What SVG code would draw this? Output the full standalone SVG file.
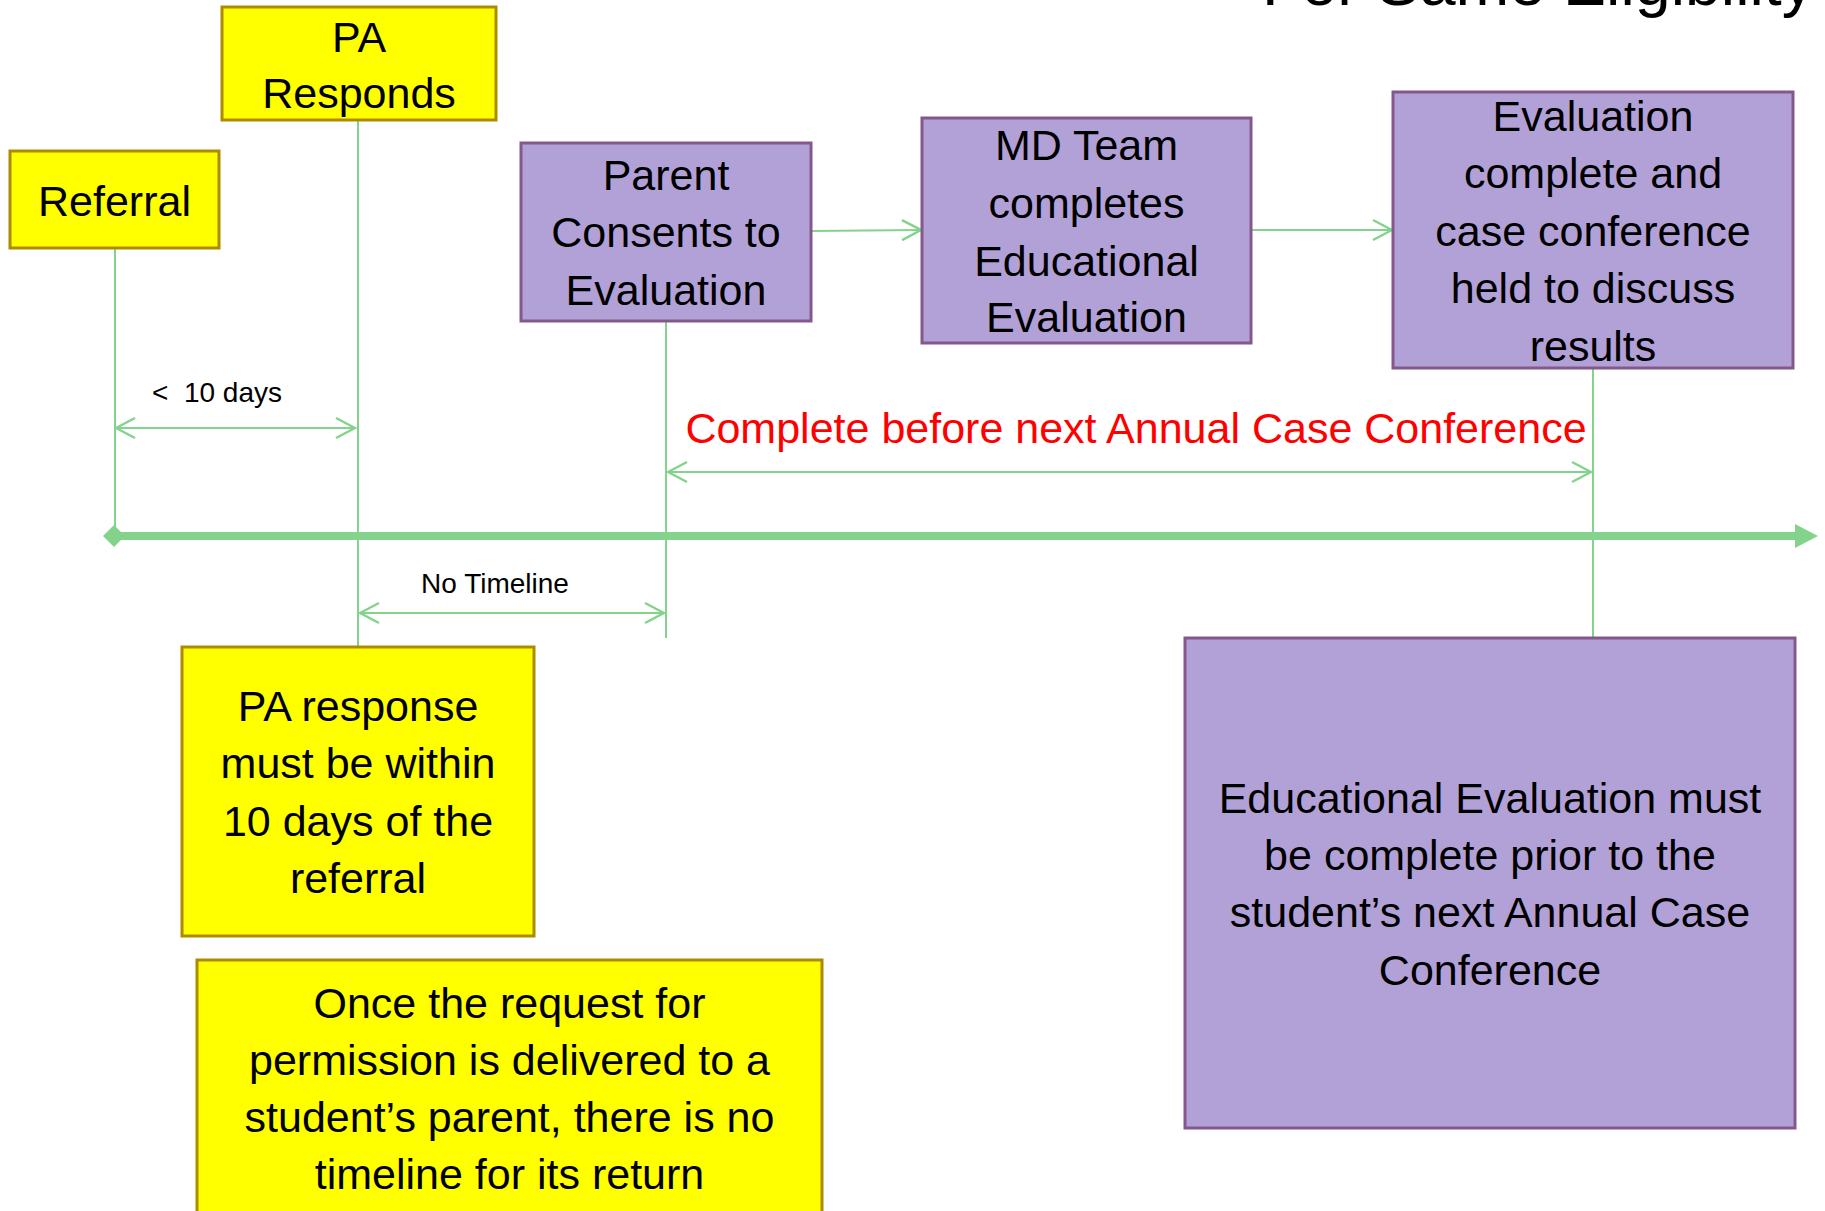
<svg xmlns="http://www.w3.org/2000/svg" width="1825" height="1211" viewBox="0 0 1825 1211">
<style>
.y{fill:#FFFF00;stroke:#AD8A00;stroke-width:3}
.p{fill:#B2A1D7;stroke:#84588A;stroke-width:3}
.t{font-family:"Liberation Sans",Arial,sans-serif;font-size:43px;fill:#000;text-anchor:middle}
.s{font-family:"Liberation Sans",Arial,sans-serif;font-size:28px;fill:#000;text-anchor:middle;white-space:pre}
.r{font-family:"Liberation Sans",Arial,sans-serif;font-size:43px;fill:#FF0000;text-anchor:middle}
.g{stroke:#84D38C;stroke-width:2;fill:none}
.a{stroke:#84D38C;stroke-width:2;fill:none;marker-end:url(#oa)}
.d{stroke:#84D38C;stroke-width:2;fill:none;marker-end:url(#oa);marker-start:url(#oa)}
</style>
<defs>
<marker id="oa" markerUnits="userSpaceOnUse" markerWidth="24" markerHeight="24" viewBox="-22 -12 24 24" refX="0" refY="0" orient="auto-start-reverse">
<path d="M-19,-10 L0,0 L-19,10" fill="none" stroke="#84D38C" stroke-width="2.5"/>
</marker>
</defs>
<rect width="1825" height="1211" fill="#FFFFFF"/>
<text x="1262" y="5" font-family="'Liberation Sans',Arial,sans-serif" font-size="64" fill="#000" textLength="552" lengthAdjust="spacingAndGlyphs">For Same Eligibility</text>

<g id="connectors">
<line class="g" x1="115" y1="248" x2="115" y2="535"/>
<line class="g" x1="358" y1="120" x2="358" y2="647"/>
<line class="g" x1="666" y1="321" x2="666" y2="638"/>
<line class="g" x1="1593" y1="368" x2="1593" y2="638"/>
<line class="a" x1="811" y1="231" x2="921" y2="230"/>
<line class="a" x1="1251" y1="230" x2="1392" y2="230"/>
<line class="d" x1="116" y1="428" x2="355" y2="428"/>
<line class="d" x1="668" y1="472" x2="1591" y2="472"/>
<line class="d" x1="360" y1="613" x2="664" y2="613"/>
<line x1="114" y1="536" x2="1798" y2="536" stroke="#84D38C" stroke-width="8"/>
<path d="M114,525 L125,536 L114,547 L103,536 Z" fill="#84D38C"/>
<path d="M1795,524 L1818,536 L1795,548 Z" fill="#84D38C"/>
<text class="s" x="217" y="402">&lt;  10 days</text>
<text class="s" x="495" y="593">No Timeline</text>
<text class="r" x="1136" y="443">Complete before next Annual Case Conference</text>
</g>

<g id="referral">
<rect class="y" x="10" y="151" width="209" height="97"/>
<text class="t" x="114.5" y="216">Referral</text>
</g>
<g id="pa-responds">
<rect class="y" x="222" y="7" width="274" height="113"/>
<text class="t" x="359" y="52">PA</text>
<text class="t" x="359" y="108">Responds</text>
</g>
<g id="parent-consents">
<rect class="p" x="521" y="143" width="290" height="178"/>
<text class="t" x="666" y="190">Parent</text>
<text class="t" x="666" y="247">Consents to</text>
<text class="t" x="666" y="305">Evaluation</text>
</g>
<g id="md-team">
<rect class="p" x="922" y="118" width="329" height="225"/>
<text class="t" x="1086.5" y="160">MD Team</text>
<text class="t" x="1086.5" y="218">completes</text>
<text class="t" x="1086.5" y="276">Educational</text>
<text class="t" x="1086.5" y="332">Evaluation</text>
</g>
<g id="evaluation-complete">
<rect class="p" x="1393" y="92" width="400" height="276"/>
<text class="t" x="1593" y="131">Evaluation</text>
<text class="t" x="1593" y="188">complete and</text>
<text class="t" x="1593" y="246">case conference</text>
<text class="t" x="1593" y="303">held to discuss</text>
<text class="t" x="1593" y="361">results</text>
</g>
<g id="pa-response-note">
<rect class="y" x="182" y="647" width="352" height="289"/>
<text class="t" x="358" y="721">PA response</text>
<text class="t" x="358" y="778">must be within</text>
<text class="t" x="358" y="836">10 days of the</text>
<text class="t" x="358" y="893">referral</text>
</g>
<g id="once-note">
<rect class="y" x="197" y="960" width="625" height="270"/>
<text class="t" x="509.5" y="1018">Once the request for</text>
<text class="t" x="509.5" y="1075">permission is delivered to a</text>
<text class="t" x="509.5" y="1132">student’s parent, there is no</text>
<text class="t" x="509.5" y="1189">timeline for its return</text>
</g>
<g id="educational-note">
<rect class="p" x="1185" y="638" width="610" height="490"/>
<text class="t" x="1490" y="813">Educational Evaluation must</text>
<text class="t" x="1490" y="870">be complete prior to the</text>
<text class="t" x="1490" y="927">student’s next Annual Case</text>
<text class="t" x="1490" y="985">Conference</text>
</g>
</svg>
